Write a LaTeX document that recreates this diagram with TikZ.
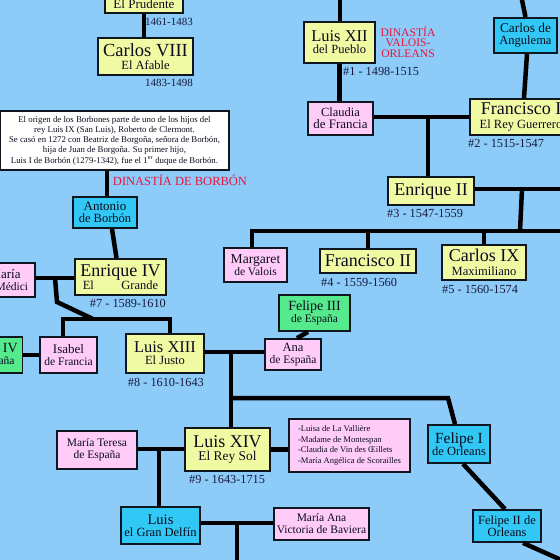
\documentclass[tikz,border=0pt]{standalone}
\usepackage{fontspec}
\setmainfont{Liberation Serif}
\definecolor{bgc}{RGB}{141,203,249}
\definecolor{yel}{RGB}{240,250,162}
\definecolor{pnk}{RGB}{255,204,250}
\definecolor{cyn}{RGB}{50,200,245}
\definecolor{grn}{RGB}{85,235,140}
\definecolor{redt}{RGB}{235,20,60}
\definecolor{brd}{RGB}{15,22,32}
\definecolor{txt}{RGB}{12,12,30}
\definecolor{lbt}{RGB}{25,25,60}
\newcommand\myfs[1]{\fontsize{#1}{#1}\selectfont}
\begin{document}
\begin{tikzpicture}[x=1pt,y=-1pt,
  box/.style={draw=brd, line width=1.8pt, inner sep=1pt, align=center, text=txt,
              font=\fontsize{12.5}{12}\selectfont},
  ybox/.style={box, fill=yel},
  pbox/.style={box, fill=pnk, font=\fontsize{11.5}{12}\selectfont},
  cbox/.style={box, fill=cyn, font=\fontsize{12.5}{12}\selectfont},
  gbox/.style={box, fill=grn, font=\fontsize{11.5}{12}\selectfont},
  wbox/.style={box, fill=white},
  conn/.style={line width=4.5pt, draw=black},
  lbl/.style={inner sep=0pt, text=lbt, font=\fontsize{12.3}{12}\selectfont},
  redl/.style={inner sep=0pt, text=redt}
]
\useasboundingbox (0,0) rectangle (560,560);
\clip (0,0) rectangle (560,560);
\fill[bgc] (0,0) rectangle (560,560);

% ---- boxes ----
\node[ybox, minimum width=78pt, minimum height=18pt, font=\myfs{13}] (prud) at (144,4) {El Prudente};
\node[ybox, minimum width=95pt, minimum height=37pt] (c8) at (145.5,56.5) {{\myfs{18.5}Carlos VIII}\\[1.5pt]El Afable};
\node[wbox, minimum width=229pt, minimum height=59pt, font=\fontsize{8.8}{10.3}\selectfont] (info) at (114.5,140.5)
  {El origen de los Borbones parte de uno de los hijos del\\rey Luis IX (San Luis), Roberto de Clermont.\\Se casó en 1272 con Beatriz de Borgoña, señora de Borbón,\\hija de Juan de Borgoña. Su primer hijo,\\Luis I de Borbón (1279-1342), fue el 1\textsuperscript{er} duque de Borbón.};
\node[cbox, minimum width=64pt, minimum height=31pt] (anton) at (105,212.5) {{\myfs{13}Antonio}\\de Borbón};
\node[ybox, minimum width=91pt, minimum height=36pt] (enr4) at (120.5,277) {{\myfs{18}Enrique IV}\\El\hspace{2.2em}Grande};
\node[pbox, minimum width=60pt, minimum height=34pt] (medici) at (5,280) {{\myfs{13}María}\\de Médici};
\node[gbox, minimum width=63pt, minimum height=36pt] (felipe4) at (-9,355) {{\myfs{14}Felipe IV}\\de España};
\node[pbox, minimum width=57pt, minimum height=36pt] (isabel) at (68.5,355) {{\myfs{13}Isabel}\\de Francia};
\node[ybox, minimum width=78pt, minimum height=39pt] (luis13) at (165,353.5) {{\myfs{16.5}Luis XIII}\\El Justo};
\node[gbox, minimum width=71pt, minimum height=36pt] (felipe3) at (314.5,313) {{\myfs{14}Felipe III}\\de España};
\node[pbox, minimum width=56pt, minimum height=31pt] (ana) at (293,354.5) {{\myfs{12.6}Ana}\\de España};
\node[ybox, minimum width=85pt, minimum height=43pt] (luis14) at (227.5,449.5) {{\myfs{18}Luis XIV}\\[1.5pt]{\myfs{13.4}El Rey Sol}};
\node[pbox, minimum width=80pt, minimum height=38pt] (mteresa) at (97,450) {María Teresa\\de España};
\node[cbox, minimum width=79pt, minimum height=37pt] (delfin) at (160.5,525.5) {{\myfs{14.6}Luis}\\el Gran Delfín};
\node[pbox, minimum width=95pt, minimum height=32pt] (mana) at (321.5,524) {María Ana\\Victoria de Baviera};
\node[pbox, minimum width=121pt, minimum height=53pt, align=left, font=\fontsize{8.6}{10.7}\selectfont, inner xsep=5pt] (mistress) at (349.5,445.5)
  {-Luisa de La Vallière\\-Madame de Montespan\\-Claudia de Vin des Œillets\\-María Angélica de Scorailles\rlap{\hspace{1.2em}}};
\node[cbox, minimum width=62pt, minimum height=38pt] (felipe1) at (459,444) {{\myfs{15.5}Felipe I}\\de Orleans};
\node[cbox, minimum width=68pt, minimum height=32pt] (felipe2) at (507,526) {Felipe II de\\Orleans};
\node[ybox, minimum width=71pt, minimum height=41pt] (luis12) at (339.5,42.5) {{\myfs{16.5}Luis XII}\\del Pueblo};
\node[pbox, minimum width=65pt, minimum height=33pt] (claudia) at (340.5,118.5) {{\myfs{12.5}Claudia}\\{\myfs{12.9}de Francia}};
\node[cbox, minimum width=63pt, minimum height=35pt] (angulema) at (525.5,35.5) {{\myfs{13.4}Carlos de}\\Angulema};
\node[ybox, minimum width=102pt, minimum height=36pt] (fran1) at (521,117) {{\myfs{18}Francisco I}\\[1.5pt]El Rey Guerrero};
\node[ybox, minimum width=86pt, minimum height=28pt] (enr2) at (431,191) {\myfs{18}Enrique II};
\node[pbox, minimum width=63pt, minimum height=34pt] (marg) at (255.5,265) {{\myfs{13.6}Margaret}\\de Valois};
\node[ybox, minimum width=96pt, minimum height=24pt] (fran2) at (368,261) {\myfs{18}Francisco II};
\node[ybox, minimum width=84pt, minimum height=35pt] (carlos9) at (484,262.5) {{\myfs{18}Carlos IX}\\[1.5pt]Maximiliano};

% ---- labels ----
\node[lbl, anchor=east, font=\myfs{11}] (y0) at (193,22) {1461-1483};
\node[lbl, anchor=east, font=\myfs{11}] (y8) at (193,83) {1483-1498};
\node[lbl, anchor=west] (n1) at (343,71) {\#1 - 1498-1515};
\node[lbl, anchor=west] (n2) at (468,143) {\#2 - 1515-1547};
\node[lbl, anchor=west] (n3) at (387,213) {\#3 - 1547-1559};
\node[lbl, anchor=west] (n4) at (321,282.5) {\#4 - 1559-1560};
\node[lbl, anchor=west] (n5) at (442,289) {\#5 - 1560-1574};
\node[lbl, anchor=east] (n7) at (166,303) {\#7 - 1589-1610};
\node[lbl, anchor=east] (n8) at (204,382) {\#8 - 1610-1643};
\node[lbl, anchor=west] (n9) at (189,479) {\#9 - 1643-1715};
\node[redl, font=\myfs{12.5}] (dinb) at (180,180) {DINASTÍA DE BORBÓN};
\node[redl, align=center, font=\fontsize{11.6}{10.6}\selectfont] (dinv) at (408,42) {DINASTÍA\\VALOIS-\\ORLEANS};

% ---- connectors ----
\draw[conn] (prud.south) -- (prud.south |- c8.north);
\draw[conn] ([xshift=2pt]info.south -| anton.north) -- ([xshift=2pt]anton.north);
\draw[conn] ([xshift=7pt]anton.south) -- ([xshift=-4pt]enr4.north);
\coordinate (jm) at (55,278);
\coordinate (bend7) at (57,302);
\coordinate (ch7) at (93,319);
\draw[conn] (medici.east |- jm) -- (enr4.west |- jm);
\draw[conn] (jm) -- (bend7) -- (ch7);
\draw[conn] ([xshift=-5.5pt]isabel.north) -- ([xshift=-5.5pt]isabel.north |- ch7) -- ([xshift=5pt]luis13.north |- ch7) -- ([xshift=5pt]luis13.north);
\draw[conn] (felipe4.east) -- (isabel.west);
\coordinate (j13) at (231,352);
\draw[conn] (luis13.east |- j13) -- (ana.west |- j13);
\draw[conn] ([xshift=-6.5pt]felipe3.south) -- ([xshift=4pt]ana.north);
\draw[conn] (j13) -- (j13 |- luis14.north);
\coordinate (j14) at (231,398);
\coordinate (bend14) at (448,398);
\draw[conn] (j14) -- (bend14) -- ([xshift=-4pt]felipe1.north);
\coordinate (j15) at (159,449);
\draw[conn] (mteresa.east |- j15) -- (luis14.west |- j15);
\draw[conn] (j15) -- (j15 |- delfin.north);
\draw[conn] (luis14.east) -- (luis14.east -| mistress.west);
\coordinate (j16) at (237,523);
\coordinate (bot16) at (237,566);
\draw[conn] (delfin.east |- j16) -- (mana.west |- j16);
\draw[conn] (j16) -- (bot16);
\draw[conn] ([xshift=4pt]felipe1.south) -- ([xshift=-2pt]felipe2.north);
\coordinate (bot2) at (568,563);
\draw[conn] ([xshift=16pt]felipe2.south) -- (bot2);
\coordinate (top12) at (340,-5);
\draw[conn] (top12) -- (top12 |- luis12.north);
\draw[conn] (luis12.south) -- (luis12.south |- claudia.north);
\coordinate (topang) at (521,-5);
\draw[conn] (topang) -- (angulema.north);
\draw[conn] ([xshift=1.5pt]angulema.south) -- ([xshift=3pt]fran1.north);
\coordinate (j1) at (428,117);
\draw[conn] (claudia.east |- j1) -- (fran1.west |- j1);
\draw[conn] (j1) -- (j1 |- enr2.north);
\coordinate (j2) at (522,189);
\coordinate (right2) at (566,189);
\draw[conn] (enr2.east |- j2) -- (right2);
\coordinate (ch2) at (520,231);
\coordinate (rightch) at (566,231);
\draw[conn] (j2) -- (ch2);
\draw[conn] ([xshift=-3.5pt]marg.north) -- ([xshift=-3.5pt]marg.north |- rightch) -- (rightch);
\draw[conn] (fran2.north) -- (fran2.north |- rightch);
\draw[conn] (carlos9.north) -- (carlos9.north |- rightch);
\end{tikzpicture}
\end{document}
